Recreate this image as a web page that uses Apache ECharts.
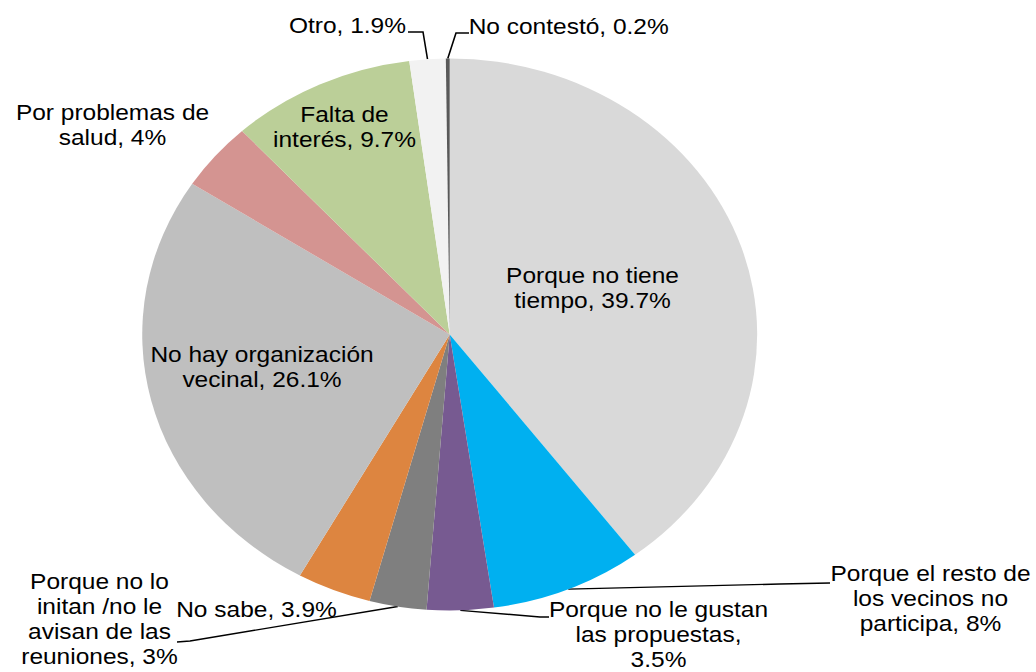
<!DOCTYPE html>
<html>
<head>
<meta charset="utf-8">
<script src="https://cdn.jsdelivr.net/npm/echarts@6/dist/echarts.min.js"></script>
<style>
html,body{margin:0;padding:0;background:#fff;overflow:hidden;}
#wrap{width:1036px;height:672px;overflow:hidden;}
/* the original chart is stretched horizontally, so draw it narrower and scale it */
#chart{width:930px;height:672px;transform:scaleX(1.114);transform-origin:0 0;}
</style>
</head>
<body>
<div id="wrap"><div id="chart"></div></div>
<script>
// categorías, con los saltos de línea de la etiqueta
var categories = [
  'Porque no tiene\ntiempo',
  'Porque el resto de\nlos vecinos no\nparticipa',
  'Porque no le gustan\nlas propuestas',
  'Porque no lo\ninitan /no le\navisan de las\nreuniones',
  'No sabe',
  'No hay organización\nvecinal',
  'Por problemas de\nsalud',
  'Falta de\ninterés',
  'Otro',
  'No contestó'
];
var values = [39.7, 8, 3.5, 3, 3.9, 26.1, 4, 9.7, 1.9, 0.2];

var colors = ['#d9d9d9', '#00b0f0', '#775a91', '#7f7f7f', '#dd8540',
              '#bfbfbf', '#d49491', '#bbcf98', '#f2f2f2', '#595959'];
var valueOnNewLine = [2];
var insideLabels = [0, 5, 7];
var noLeader = [4, 6];

var SX = 1.114;

// label centres, in page pixels (before the horizontal stretch)
var labelPos = [
  [592.5, 287.5], [930.5, 598], [658.5, 634], [99.5, 619], [256.5, 609],
  [262, 366.5], [112.5, 125], [344.5, 127], [347.5, 25], [568.7, 26]
];
// bend and end of the leader lines, page pixels
var leaderPts = {
  1: [[780, 584], [830, 583]],
  2: [[540, 617], [549, 617]],
  3: [[190, 641], [177, 642]],
  8: [[423, 32], [408, 32]],
  9: [[456, 33], [469, 33]]
};

var data = categories.map(function (c, i) {
  var inside = insideLabels.indexOf(i) >= 0;
  return {
    name: c,
    value: values[i],
    itemStyle: {color: colors[i]},
    label: {position: inside ? 'inside' : 'outside'},
    labelLine: {show: !inside && noLeader.indexOf(i) < 0}
  };
});

var chart = echarts.init(document.getElementById('chart'), null, {renderer: 'svg'});
chart.setOption({
  backgroundColor: '#fff',
  animation: false,
  series: [{
    type: 'pie',
    center: [449.7 / SX, 334.5],
    radius: 276,
    startAngle: 90,
    clockwise: true,
    avoidLabelOverlap: false,
    data: data,
    itemStyle: {borderWidth: 0},
    label: {
      show: true,
      color: '#000',
      fontFamily: '"Liberation Sans", Arial, sans-serif',
      fontSize: 22,
      lineHeight: 25,
      align: 'center',
      formatter: function (p) {
        var sep = valueOnNewLine.indexOf(p.dataIndex) >= 0 ? ',\n' : ', ';
        return p.name + sep + p.value + '%';
      }
    },
    labelLine: {
      show: true,
      length: 10,
      length2: 10,
      lineStyle: {color: '#000', width: 1.4}
    },
    labelLayout: function (params) {
      var i = params.dataIndex;
      var pos = labelPos[i];
      var out = {
        x: pos[0] / SX,
        y: pos[1],
        align: 'center',
        verticalAlign: 'middle'
      };
      var pts = leaderPts[i];
      if (pts) {
        var start = params.labelLinePoints ? params.labelLinePoints[0] : [pts[0][0] / SX, pts[0][1]];
        out.labelLinePoints = [
          start,
          [pts[0][0] / SX, pts[0][1]],
          [pts[1][0] / SX, pts[1][1]]
        ];
      }
      return out;
    }
  }]
});
</script>
</body>
</html>
